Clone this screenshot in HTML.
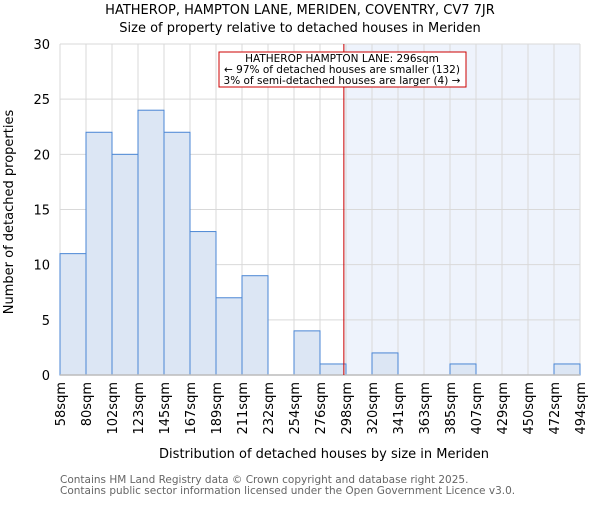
<!DOCTYPE html>
<html><head><meta charset="utf-8"><style>
body{margin:0;background:#fff;}
svg text{font-family:"DejaVu Sans","Liberation Sans",sans-serif;}
</style></head><body>
<svg id="chart" width="600" height="500" xmlns="http://www.w3.org/2000/svg">
<text x="300" y="14" text-anchor="middle" font-size="13" fill="#000">HATHEROP, HAMPTON LANE, MERIDEN, COVENTRY, CV7 7JR</text>
<text x="300" y="32" text-anchor="middle" font-size="13" fill="#000">Size of property relative to detached houses in Meriden</text>
<g id="plot"></g>
<text x="324" y="458" text-anchor="middle" font-size="13" fill="#000">Distribution of detached houses by size in Meriden</text>
<text transform="translate(13,212) rotate(-90)" text-anchor="middle" font-size="13" fill="#000">Number of detached properties</text>
<text x="60" y="483" font-size="10.5" fill="#666">Contains HM Land Registry data © Crown copyright and database right 2025.</text>
<text x="60" y="494" font-size="10.5" fill="#666">Contains public sector information licensed under the Open Government Licence v3.0.</text>
</svg>
<script>
const categories=["58sqm","80sqm","102sqm","123sqm","145sqm","167sqm","189sqm","211sqm","232sqm","254sqm","276sqm","298sqm","320sqm","341sqm","363sqm","385sqm","407sqm","429sqm","450sqm","472sqm","494sqm"];
const counts=[11,22,20,24,22,13,7,9,0,4,1,0,2,0,0,1,0,0,0,1];
const yTicks=[0,5,10,15,20,25,30];
const propertySize=296;
const binStart=58, binWidth=21.8;
const X0=60,X1=580,Y0=375,Y1=44,YMAX=30;
const NS="http://www.w3.org/2000/svg";
const g=document.getElementById('plot');
const bw=(X1-X0)/counts.length;
const xIdx=i=>X0+i*bw;
const xVal=v=>X0+(v-binStart)/binWidth*bw;
const y=v=>Y0-v/YMAX*(Y0-Y1);
function mk(t,a){const e=document.createElementNS(NS,t);for(const k in a)e.setAttribute(k,a[k]);g.appendChild(e);return e;}
const px=xVal(propertySize);
const sh=mk('rect',{x:px,y:Y1,width:X1-px,height:Y0-Y1,fill:'#eef3fc'});


yTicks.forEach(t=>{
 const l=mk('line',{x1:X0,x2:X1,y1:y(t),y2:y(t),stroke:'#d9d9d9','stroke-width':1});
 
 
 const tx=mk('text',{x:50,y:y(t)+5,'text-anchor':'end','font-size':13,fill:'#000'});
 tx.textContent=t;
 
 
});
categories.forEach((c,i)=>{
 const l=mk('line',{x1:xIdx(i),x2:xIdx(i),y1:Y1,y2:Y0,stroke:'#d9d9d9','stroke-width':1});
 
 
 const tx=mk('text',{transform:`translate(${xIdx(i)+5},${382}) rotate(-90)`,'text-anchor':'end','font-size':13,fill:'#000'});
 tx.textContent=c;
 
 
});
counts.forEach((v,i)=>{
 if(v<=0)return;
 const r=mk('rect',{x:xIdx(i),y:y(v),width:bw,height:Y0-y(v),fill:'#dce6f4',stroke:'#4a86d4','stroke-width':1});
 
 
});
const ax=mk('line',{x1:X0,x2:X1,y1:Y0,y2:Y0,stroke:'#bbb','stroke-width':1.5});


const ml=mk('line',{x1:px,x2:px,y1:Y1,y2:Y0,stroke:'#cc0000','stroke-width':1});


const box=mk('rect',{x:219,y:52,width:247,height:35,fill:'#fff',stroke:'#cc0000','stroke-width':1});


["HATHEROP HAMPTON LANE: 296sqm","← 97% of detached houses are smaller (132)","3% of semi-detached houses are larger (4) →"].forEach((s,i)=>{
 const t=mk('text',{x:342,y:62+i*11,'text-anchor':'middle','font-size':10.5,fill:'#000'});
 t.textContent=s;
 
 
});
</script>
</body></html>
